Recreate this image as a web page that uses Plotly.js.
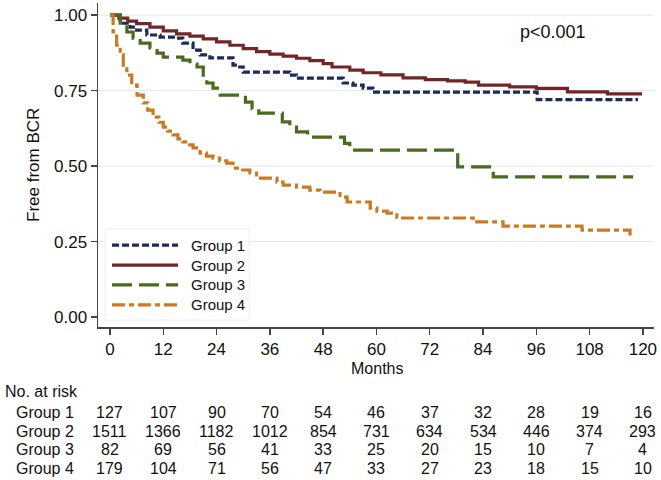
<!DOCTYPE html>
<html>
<head>
<meta charset="utf-8">
<script src="https://cdn.plot.ly/plotly-3.0.1.min.js"></script>
<style>
  body { margin: 0; background: #fff; }
  #chart { width: 661px; height: 480px; }
</style>
</head>
<body>
<div id="chart"></div>
<script>
// Kaplan-Meier steps (months, survival)
var g1Time = [0, 2.3, 4.5, 6, 8.3, 11.3, 15, 16.4, 18.7, 20.3, 22.5, 27.7, 28.6, 30, 40.5, 42, 52.5, 54.7, 57, 59.2, 96.2, 118.9];
var g1Surv = [1, 0.973, 0.96, 0.95, 0.934, 0.927, 0.924, 0.907, 0.884, 0.868, 0.858, 0.834, 0.828, 0.811, 0.801, 0.791, 0.775, 0.768, 0.758, 0.745, 0.72, 0.72];

var g2Time = [0, 2, 4, 6, 9, 12, 15, 18, 21, 24, 27, 30, 33, 36, 39, 42, 45, 48, 50, 54, 57, 61, 66, 71, 76, 80, 83, 90, 96, 103, 112, 119.8];
var g2Surv = [1, 0.99, 0.98, 0.972, 0.96, 0.948, 0.938, 0.93, 0.921, 0.911, 0.9, 0.889, 0.879, 0.871, 0.864, 0.857, 0.849, 0.839, 0.828, 0.818, 0.809, 0.802, 0.792, 0.786, 0.782, 0.778, 0.768, 0.762, 0.757, 0.746, 0.739, 0.739];

var g3Time = [0, 2.3, 3.8, 5.2, 6.8, 9, 10.6, 12, 16.4, 18, 19.6, 21, 21.8, 23.2, 24.8, 30.5, 32, 33.5, 38.8, 40.5, 42, 44.5, 52.8, 54, 78.3, 86.3, 117.8];
var g3Surv = [1, 0.973, 0.944, 0.924, 0.907, 0.891, 0.874, 0.861, 0.851, 0.838, 0.828, 0.795, 0.775, 0.758, 0.735, 0.712, 0.69, 0.675, 0.646, 0.629, 0.613, 0.596, 0.575, 0.553, 0.497, 0.464, 0.464];

var g4Time = [0, 0.7, 1.5, 2.3, 3, 3.8, 4.9, 6.1, 7.5, 8.5, 9.7, 11, 12, 13, 14.2, 15.3, 16.4, 17.5, 18.7, 20.3, 21.7, 23.2, 24.7, 26.3, 27.7, 29.3, 31.5, 33, 37.6, 39, 42, 45, 47.3, 51.8, 53.4, 58.6, 60.1, 62.4, 64.6, 65.3, 81.8, 88.5, 106.3, 117.1];
var g4Surv = [1, 0.944, 0.9, 0.868, 0.834, 0.801, 0.768, 0.735, 0.709, 0.685, 0.662, 0.645, 0.629, 0.616, 0.603, 0.59, 0.58, 0.57, 0.56, 0.543, 0.533, 0.526, 0.517, 0.51, 0.493, 0.487, 0.477, 0.46, 0.447, 0.437, 0.43, 0.42, 0.414, 0.397, 0.381, 0.361, 0.351, 0.344, 0.331, 0.328, 0.315, 0.301, 0.288, 0.27];

var groupNames = ['Group 1', 'Group 2', 'Group 3', 'Group 4'];
var groupColors = ['#1c2b57', '#722529', '#4a6a20', '#c97a23'];
var groupDash = ['7px,3px', 'solid', '20px,7px', '13px,4px,5px,4px'];

// number at risk table
var riskMonths = [0, 12, 24, 36, 48, 60, 72, 84, 96, 108, 120];
var riskG1 = [127, 107, 90, 70, 54, 46, 37, 32, 28, 19, 16];
var riskG2 = [1511, 1366, 1182, 1012, 854, 731, 634, 534, 446, 374, 293];
var riskG3 = [82, 69, 56, 41, 33, 25, 20, 15, 10, 7, 4];
var riskG4 = [179, 104, 71, 56, 47, 33, 27, 23, 18, 15, 10];

var yTicks = [0, 0.25, 0.5, 0.75, 1];
var yTickText = ['0.00', '0.25', '0.50', '0.75', '1.00'];

var times = [g1Time, g2Time, g3Time, g4Time];
var survs = [g1Surv, g2Surv, g3Surv, g4Surv];
var risks = [riskG1, riskG2, riskG3, riskG4];

var FONT = 'Liberation Sans, Arial, sans-serif';

var traces = [];
for (var i = 0; i < 4; i++) {
	traces.push({
		x: times[i],
		y: survs[i],
		type: 'scatter',
		mode: 'lines',
		name: groupNames[i],
		line: {color: groupColors[i], width: 3.2, dash: groupDash[i], shape: 'hv'},
		showlegend: false,
		hoverinfo: 'skip'
	});
}

var shapes = [];
var annotations = [];

// light grid lines (none at 0)
for (var k = 1; k < yTicks.length; k++) {
	shapes.push({
		type: 'line', xref: 'paper', yref: 'y', layer: 'below',
		x0: 0, x1: 1, y0: yTicks[k], y1: yTicks[k],
		line: {color: '#e3e9ee', width: 1}
	});
}

// hand drawn legend box, long sample lines like the original
var legBox = {x0: 0.0126, x1: 0.272, y0: 0.0216, y1: 0.3025};
shapes.push({
	type: 'rect', xref: 'paper', yref: 'paper',
	x0: legBox.x0, x1: legBox.x1, y0: legBox.y0, y1: legBox.y1,
	fillcolor: '#ffffff', line: {color: '#eeeeee', width: 1}
});
var legRows = [0.253, 0.191, 0.130, 0.068];
for (var i = 0; i < 4; i++) {
	shapes.push({
		type: 'line', xref: 'paper', yref: 'paper',
		x0: 0.0252, x1: 0.1439, y0: legRows[i], y1: legRows[i],
		line: {color: groupColors[i], width: 3.2, dash: groupDash[i]}
	});
	annotations.push({
		xref: 'paper', yref: 'paper', x: 0.1637, y: legRows[i],
		xanchor: 'left', yanchor: 'middle', showarrow: false,
		text: groupNames[i], font: {family: FONT, size: 15, color: '#111'}
	});
}

// p value
annotations.push({
	xref: 'x', yref: 'y', x: 99.8, y: 0.944, showarrow: false,
	text: 'p<0.001', font: {family: FONT, size: 18, color: '#111'}
});

// axis titles
annotations.push({
	xref: 'paper', yref: 'paper', x: 0.502, y: -0.128, showarrow: false,
	xanchor: 'center', yanchor: 'middle',
	text: 'Months', font: {family: FONT, size: 16, color: '#111'}
});
annotations.push({
	xref: 'paper', yref: 'paper', x: -0.117, y: 0.5, showarrow: false,
	xanchor: 'center', yanchor: 'middle', textangle: -90,
	text: 'Free from BCR', font: {family: FONT, size: 17, color: '#111'}
});

// number at risk table
var rowY = [-0.265, -0.322, -0.379, -0.436];
var TF = 16;
annotations.push({
	xref: 'paper', yref: 'paper', x: -0.171, y: -0.2006, showarrow: false,
	xanchor: 'left', yanchor: 'middle',
	text: 'No. at risk', font: {family: FONT, size: TF, color: '#111'}
});
for (var i = 0; i < 4; i++) {
	annotations.push({
		xref: 'paper', yref: 'paper', x: -0.149, y: rowY[i], showarrow: false,
		xanchor: 'left', yanchor: 'middle', height: 17, borderpad: 0,
		text: groupNames[i], font: {family: FONT, size: TF, color: '#111'}
	});
	for (var j = 0; j < riskMonths.length; j++) {
		annotations.push({
			xref: 'x', yref: 'paper', x: riskMonths[j], y: rowY[i], showarrow: false,
			xanchor: 'center', yanchor: 'middle', height: 17, borderpad: 0,
			text: String(risks[i][j]), font: {family: FONT, size: TF, color: '#111'}
		});
	}
}

var layout = {
	width: 661, height: 480,
	margin: {l: 98, r: 7, t: 3, b: 153},
	paper_bgcolor: '#ffffff',
	plot_bgcolor: '#ffffff',
	showlegend: false,
	font: {family: FONT, size: 17, color: '#111'},
	xaxis: {
		range: [-2.7, 122.5],
		tickvals: riskMonths,
		ticktext: riskMonths.map(String),
		ticks: 'outside', ticklen: 6, tickwidth: 1.5, tickcolor: '#444',
		showline: true, linecolor: '#444', linewidth: 1.5,
		showgrid: false, zeroline: false,
		tickfont: {family: FONT, size: 17, color: '#111'}
	},
	yaxis: {
		range: [-0.033, 1.04],
		tickvals: yTicks,
		ticktext: yTickText,
		ticks: 'outside', ticklen: 6, tickwidth: 1.5, tickcolor: '#444',
		showline: true, linecolor: '#444', linewidth: 1.5,
		showgrid: false, zeroline: false,
		tickfont: {family: FONT, size: 17, color: '#111'}
	},
	shapes: shapes,
	annotations: annotations
};

Plotly.newPlot('chart', traces, layout, {displayModeBar: false, staticPlot: true});
</script>
</body>
</html>
